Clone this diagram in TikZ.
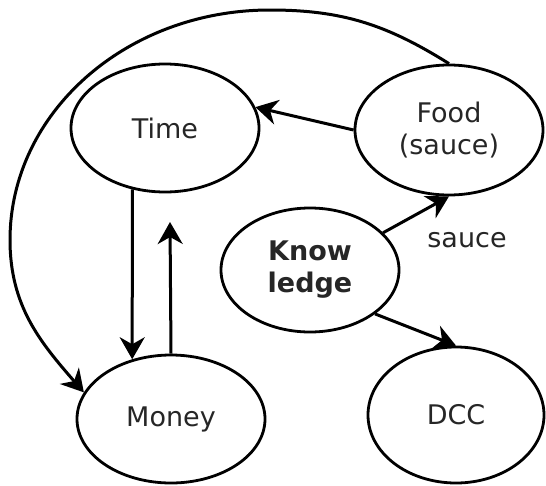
\documentclass[tikz,border=0pt]{standalone}
\usepackage{fontspec}
\setmainfont{DejaVu Sans}
\usetikzlibrary{shapes.geometric,arrows.meta}
\begin{document}
\begin{tikzpicture}[x=1pt,y=-1pt,
  bub/.style={draw=black, line width=2.8pt, ellipse, inner sep=0pt, align=center,
    text=black!85, font=\fontsize{27}{32}\selectfont},
  arr/.style={draw=black, line width=3pt, -{Stealth[length=22pt,width=25pt,inset=7pt]}},
  lbl/.style={text=black!85, font=\fontsize{27}{32}\selectfont}]
\useasboundingbox (0,0) rectangle (546,485);
\node[bub, minimum width=188pt, minimum height=128pt] (time) at (165,128) {Time};
\node[bub, minimum width=188pt, minimum height=130pt] (food) at (449,130) {Food\\(sauce)};
\node[bub, minimum width=178pt, minimum height=124pt] (know) at (310,270) {\textbf{Know}\\\textbf{ledge}};
\node[bub, minimum width=188pt, minimum height=128pt] (money) at (171,419) {Money};
\node[bub, minimum width=176pt, minimum height=136pt] (dcc) at (456,415) {DCC};
\node[lbl] (saucelbl) at (467,240) {sauce};
\coordinate (ctop) at (270,10);
\coordinate (cleft) at (10,240);
\coordinate (mtop) at (170,222);
\draw[arr] (food.north) to[out=148,in=0] (ctop) .. controls (126,10) and (10,113) .. (cleft) to[out=-90,in=131] (money.163);
\draw[arr] (food.west) -- (time.13);
\draw[arr] (time.242) -- (money.123);
\draw[arr] (money.north) -- (mtop);
\draw[arr] (know.27) -- (food.south);
\draw[arr] (know.326) -- (dcc.north);
\end{tikzpicture}
\end{document}
